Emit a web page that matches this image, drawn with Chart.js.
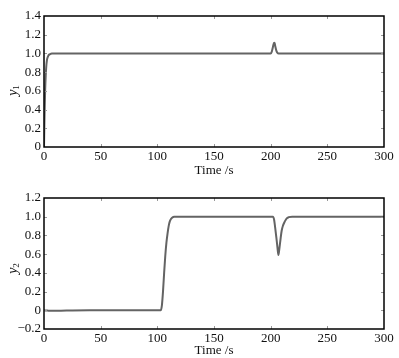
<!DOCTYPE html>
<html>
<head>
<meta charset="utf-8">
<script src="https://cdn.jsdelivr.net/npm/chart.js@4.4.0/dist/chart.umd.min.js"></script>
<style>
html,body{margin:0;padding:0;background:#fff;}
#wrap{position:relative;width:399px;height:358px;overflow:hidden;}
canvas{position:absolute;left:0;}
#c1{top:0;}
#c2{top:180px;}
</style>
</head>
<body>
<div id="wrap">
<canvas id="c1" width="399" height="180"></canvas>
<canvas id="c2" width="399" height="178"></canvas>
</div>
<script>
// ---- data ----
const t1 = [0, 0.5, 1, 1.5, 2, 2.5, 3, 4, 5, 7, 200, 201, 202, 203, 203.5, 204, 205, 206, 207, 300];
const y1 = [0, 0.35, 0.6, 0.76, 0.86, 0.92, 0.95, 0.98, 0.99, 1.0, 1.0, 1.02, 1.07, 1.115, 1.11, 1.08, 1.03, 1.005, 1.0, 1.0];

const t2 = [0, 3, 8, 15, 25, 40, 103, 104, 105, 106, 107, 108, 109, 110, 111, 112, 113, 115, 202, 203, 204, 205, 206, 206.8, 207.5, 208.5, 209.7, 211, 212.5, 214, 216, 219, 300];
const y2 = [0, -0.003, -0.006, -0.005, -0.002, 0, 0, 0.05, 0.2, 0.4, 0.58, 0.72, 0.82, 0.9, 0.95, 0.975, 0.99, 1.0, 1.0, 0.97, 0.88, 0.78, 0.67, 0.59, 0.64, 0.74, 0.85, 0.91, 0.95, 0.98, 0.995, 1.0, 1.0];

const xTickLabels = ['0', '50', '100', '150', '200', '250', '300'];
const yTickLabels1 = ['0', '0.2', '0.4', '0.6', '0.8', '1.0', '1.2', '1.4'];
const yTickLabels2 = ['\u22120.2', '0', '0.2', '0.4', '0.6', '0.8', '1.0', '1.2'];
const xTitle = 'Time /s';
const yTitles = [['y', '1'], ['y', '2']];

const FONT = "'Liberation Serif','Times New Roman',serif";

const framePlugin = {
  id: 'frame',
  afterDatasetsDraw(chart, args, opts) {
    const ctx = chart.ctx, a = chart.chartArea;
    const xs = chart.scales.x, ys = chart.scales.y;
    ctx.save();
    ctx.strokeStyle = '#999';
    ctx.lineWidth = 1;
    ctx.beginPath();
    xs.ticks.forEach(tk => {
      const px = Math.round(xs.getPixelForValue(tk.value)) + 0.5;
      if (px <= a.left + 2 || px >= a.right - 2) return;
      ctx.moveTo(px, a.bottom); ctx.lineTo(px, a.bottom - 3);
      ctx.moveTo(px, a.top); ctx.lineTo(px, a.top + 3);
    });
    ys.ticks.forEach(tk => {
      const py = Math.round(ys.getPixelForValue(tk.value)) + 0.5;
      if (py <= a.top + 2 || py >= a.bottom - 2) return;
      ctx.moveTo(a.left, py); ctx.lineTo(a.left + 3, py);
      ctx.moveTo(a.right, py); ctx.lineTo(a.right - 3, py);
    });
    ctx.stroke();
    ctx.strokeStyle = '#000';
    ctx.lineWidth = 1.5;
    ctx.strokeRect(a.left, a.top, a.right - a.left, a.bottom - a.top);
    // y title (italic y with subscript)
    const cy = (a.top + a.bottom) / 2 + opts.dy;
    ctx.translate(14, cy);
    ctx.rotate(-Math.PI / 2);
    ctx.fillStyle = '#111';
    ctx.textBaseline = 'middle';
    ctx.textAlign = 'left';
    ctx.font = "italic 14px " + FONT;
    const w1 = ctx.measureText(opts.t[0]).width;
    ctx.font = "9px " + FONT;
    const w2 = ctx.measureText(opts.t[1]).width;
    const x0 = -(w1 + w2) / 2;
    ctx.font = "italic 14px " + FONT;
    ctx.fillText(opts.t[0], x0, -1);
    ctx.font = "9px " + FONT;
    ctx.fillText(opts.t[1], x0 + w1, 3);
    ctx.restore();
  }
};

function makeChart(id, t, y, ymin, ymax, yLabels, title, padTop, padBottom, xH, dy) {
  const pts = t.map((v, i) => ({x: v, y: y[i]}));
  return new Chart(document.getElementById(id), {
    type: 'line',
    data: {datasets: [{
      data: pts,
      borderColor: 'rgb(100,100,100)',
      borderWidth: 2,
      pointRadius: 0,
      cubicInterpolationMode: 'monotone',
      fill: false
    }]},
    options: {
      responsive: false,
      animation: false,
      events: [],
      layout: {padding: {left: 0, right: 15, top: padTop, bottom: padBottom}},
      plugins: {legend: {display: false}, tooltip: {enabled: false}, frame: {t: title, dy: dy}},
      scales: {
        x: {
          type: 'linear', min: 0, max: 300,
          grid: {display: false, drawTicks: false, tickLength: 0}, border: {display: false},
          ticks: {stepSize: 50, padding: 2, color: '#111', maxRotation: 0,
            font: {family: FONT, size: 13},
            callback: (v, i) => xTickLabels[i]},
          title: {display: true, text: xTitle, color: '#111', padding: {top: 0, bottom: 0},
            font: {family: FONT, size: 13}},
          afterFit: s => { s.height = xH; }
        },
        y: {
          type: 'linear', min: ymin, max: ymax,
          grid: {display: false, drawTicks: false, tickLength: 0}, border: {display: false},
          ticks: {stepSize: 0.2, padding: 3, color: '#111',
            font: {family: FONT, size: 13},
            callback: (v, i) => yLabels[i]},
          afterFit: s => { s.width = 44; }
        }
      }
    },
    plugins: [framePlugin]
  });
}

makeChart('c1', t1, y1, 0, 1.4, yTickLabels1, yTitles[0], 16, 2, 31, 9);
makeChart('c2', t2, y2, -0.2, 1.2, yTickLabels2, yTitles[1], 18, 0, 29, 5);
</script>
</body>
</html>
